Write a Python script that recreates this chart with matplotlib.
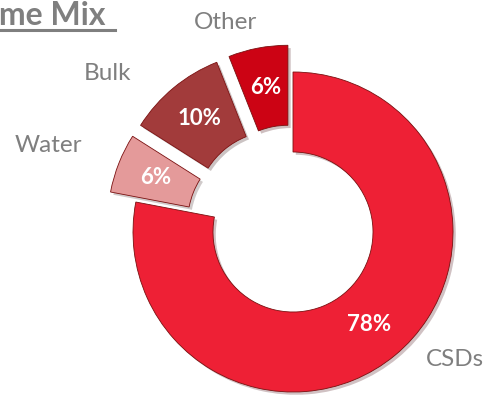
import matplotlib.pyplot as plt
import matplotlib.patheffects as pe
from matplotlib.lines import Line2D

plt.rcParams['font.family'] = ['Lato', 'DejaVu Sans']

categories = ['CSDs', 'Water', 'Bulk', 'Other']
shares = [78, 6, 10, 6]
colors = ['#EE2035', '#E49A9A', '#A23B3B', '#CC0314']
explode = [0, 0.17, 0.17, 0.17]

# where the category names sit, in units of the donut radius
label_pos = {
    'CSDs': (1.01, -0.80),
    'Water': (-1.53, 0.54),
    'Bulk': (-1.16, 0.99),
    'Other': (-0.42, 1.31),
}

fig = plt.figure(figsize=(4.9, 3.97), dpi=100)
ax = fig.add_axes([0, 0, 1, 1])

wedges, texts, autotexts = ax.pie(
    shares, colors=colors, explode=explode, startangle=90, counterclock=False,
    autopct='%d%%', pctdistance=0.75,
    wedgeprops=dict(width=0.5, edgecolor='#7a1010', linewidth=0.6),
    textprops=dict(color='white', fontsize=16, fontweight='bold'),
)
for w in wedges:
    w.set_path_effects([pe.SimplePatchShadow(offset=(2, -2), alpha=0.25), pe.Normal()])

for name in categories:
    x, y = label_pos[name]
    ax.text(x, y, name, ha='center', va='center', fontsize=17.5, color='#7F7F7F')

# 160 px per radius, donut centre at (293, 232) px from the top-left
ax.set_xlim(-293 / 160, (490 - 293) / 160)
ax.set_ylim(-(397 - 232) / 160, 232 / 160)
ax.set_aspect('equal')
ax.axis('off')

fig.text(106 / 490, 1 - 25 / 397, 'Volume Mix', ha='right', va='baseline',
         fontsize=23, fontweight='bold', color='#7F7F7F')
fig.add_artist(Line2D([0, 115 / 490], [1 - 30 / 397] * 2, color='#7F7F7F', lw=2.2,
                      transform=fig.transFigure))

fig.savefig('out.png', dpi=100)
